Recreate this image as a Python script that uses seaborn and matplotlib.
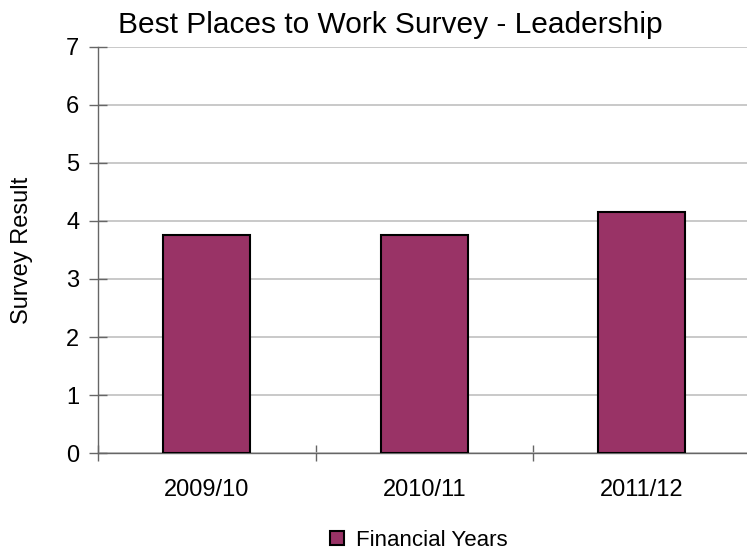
import matplotlib
matplotlib.use("Agg")
import matplotlib.pyplot as plt
import seaborn as sns
import pandas as pd
from matplotlib.patches import Patch
from matplotlib.ticker import FixedLocator

years = ["2009/10", "2010/11", "2011/12"]
values = [3.75, 3.75, 4.16]
series_name = "Financial Years"
title = "Best Places to Work Survey - Leadership"
ylabel = "Survey Result"

sns.set_theme(style="white")
plt.rcParams['font.family'] = ['Liberation Sans', 'DejaVu Sans']
plt.rcParams['text.color'] = 'black'
plt.rcParams['xtick.color'] = 'black'
plt.rcParams['ytick.color'] = 'black'
plt.rcParams['axes.labelcolor'] = 'black'

df = pd.DataFrame({"year": years, "value": values})

fig = plt.figure(figsize=(7.47, 5.53), dpi=100)
ax = fig.add_axes([98/747, 1-453/553, 3*217.5/747, (453-47)/553])

bar_color = "#993366"
sns.barplot(data=df, x="year", y="value", color=bar_color, width=0.4,
            edgecolor="black", linewidth=1.5, saturation=1, ax=ax, zorder=3)

ax.set_ylim(0, 7)
ax.set_xlim(-0.5, 2.5)
ax.set_yticks(range(0, 8))
ax.yaxis.grid(True, color="#c0c0c0", linewidth=1.2, zorder=0)
ax.set_axisbelow(True)

ax.set_xlabel("")
ax.set_ylabel("")
fig.text(22/747, 1-250/553, ylabel, rotation=90, ha="center", va="center", fontsize=17, color="black")
ax.tick_params(axis="y", labelsize=17, direction="inout", length=13, width=1, color="#666666",
               labelcolor="black", pad=7, left=True)
ax.tick_params(axis="x", which="major", labelsize=17, length=0, pad=19, labelcolor="black")
ax.xaxis.set_minor_locator(FixedLocator([-0.5, 0.5, 1.5, 2.5]))
ax.tick_params(axis="x", which="minor", direction="inout", length=12, width=1, color="#666666", bottom=True)

for s in ["top", "right"]:
    ax.spines[s].set_visible(False)
for s in ["left", "bottom"]:
    ax.spines[s].set_color("#666666")
    ax.spines[s].set_linewidth(1)

fig.text(390/747, 1-25/553, title, ha="center", va="center", fontsize=21.5, color="black")

handle = Patch(facecolor=bar_color, edgecolor="black", linewidth=1.5)
fig.legend([handle], [series_name], loc="center", bbox_to_anchor=(419/747, 1-540/553),
           frameon=False, fontsize=16, handlelength=0.6, handleheight=0.6, handletextpad=0.55,
           borderpad=0, borderaxespad=0, labelcolor="black")

fig.savefig("out.png", dpi=100)
